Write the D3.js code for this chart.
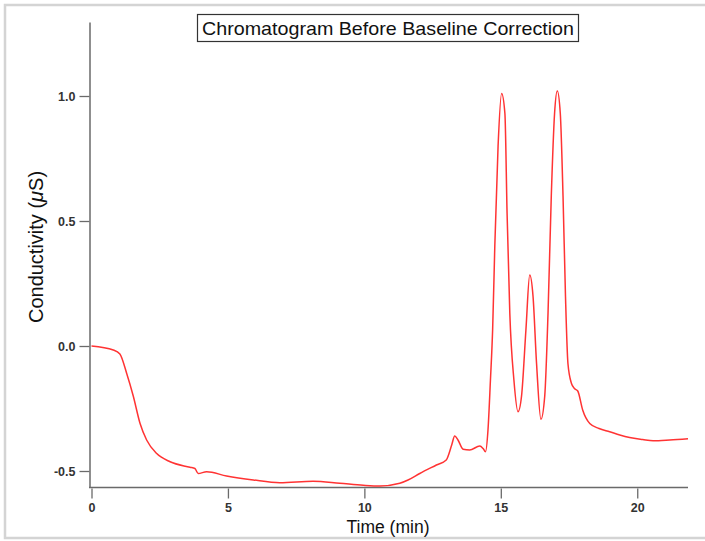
<!DOCTYPE html>
<html>
<head>
<meta charset="utf-8">
<script src="https://cdn.jsdelivr.net/npm/d3@7"></script>
<style>
  body { margin: 0; background: #fff; }
  svg { display: block; font-family: "Liberation Sans", Arial, sans-serif; }
</style>
</head>
<body>
<div id="main"></div>
<script>
// chromatogram trace
const timeMin = [0, 0.8, 1.04, 1.29, 1.53, 1.78, 2.02, 2.39, 2.88, 3.61, 3.79, 3.91, 4.22, 4.95, 5.93, 6.9, 8.12, 9.1, 9.96, 10.57, 11.3, 11.6, 12.03, 12.64, 13.0, 13.2, 13.31, 13.43, 13.62, 13.86, 14.23, 14.35, 14.44, 14.53, 14.62, 14.7, 14.78, 14.9, 15.03, 15.15, 15.23, 15.33, 15.48, 15.63, 15.76, 15.92, 16.06, 16.18, 16.31, 16.47, 16.61, 16.73, 16.85, 16.97, 17.07, 17.18, 17.28, 17.37, 17.46, 17.59, 17.7, 17.82, 18.0, 18.26, 18.6, 18.99, 19.36, 19.72, 20.2, 20.58, 21.19, 21.86];
const conductivity = [0.0, -0.016, -0.032, -0.11, -0.2, -0.31, -0.376, -0.43, -0.463, -0.485, -0.49, -0.51, -0.503, -0.52, -0.536, -0.547, -0.541, -0.549, -0.557, -0.56, -0.549, -0.536, -0.51, -0.476, -0.456, -0.396, -0.36, -0.376, -0.413, -0.416, -0.4, -0.41, -0.423, -0.336, -0.136, 0.064, 0.4, 0.8, 1.01, 0.93, 0.53, 0.13, -0.136, -0.263, -0.2, 0.064, 0.284, 0.2, -0.07, -0.293, -0.2, 0.13, 0.6, 0.93, 1.02, 0.93, 0.6, 0.2, -0.07, -0.15, -0.17, -0.18, -0.256, -0.31, -0.33, -0.343, -0.356, -0.366, -0.374, -0.379, -0.376, -0.371];
const xTicks = [0, 5, 10, 15, 20];
const yTicks = [-0.5, 0.0, 0.5, 1.0];

const d3 = window.d3;
const W = 705, H = 541;
const svg = d3.select("#main").append("svg").attr("width", W).attr("height", H);

// screenshot frame
svg.append("path")
    .attr("d", "M705,5 H5 V538 H705")
    .attr("fill", "none")
    .attr("stroke", "#d4d4d4")
    .attr("stroke-width", 2.5);

let xScale = d3.scaleLinear().domain([0, 21.86]).range([91.5, 688]);
let yScale = d3.scaleLinear().domain([-0.564, 1.296]).range([487, 22]);

const axisColor = "#6a6a6a";
const tickFont = "Liberation Sans, Arial, sans-serif";

// y axis
let yAxis = d3.axisLeft(yScale).tickValues(yTicks).tickFormat((d) => d.toFixed(1))
    .tickSizeInner(10).tickSizeOuter(0).tickPadding(4);
let gy = svg.append("g").attr("transform", "translate(89.5,0)").call(yAxis);
gy.select(".domain").attr("stroke", axisColor).attr("stroke-width", 1.5);
gy.selectAll(".tick line").attr("stroke", axisColor).attr("stroke-width", 1.3);
gy.selectAll(".tick text").attr("font-size", 12.5).attr("font-weight", "bold")
    .attr("fill", "#333").attr("font-family", tickFont);

// x axis line drawn separately, ticks hang below with a small gap
svg.append("line")
    .attr("x1", 89).attr("x2", xScale(21.86))
    .attr("y1", 487.5).attr("y2", 487.5)
    .attr("stroke", axisColor).attr("stroke-width", 1.5);
let xAxis = d3.axisBottom(xScale).tickValues(xTicks).tickFormat(d3.format("d"))
    .tickSizeInner(10).tickSizeOuter(0).tickPadding(5);
let gx = svg.append("g").attr("transform", "translate(0,488.5)").call(xAxis);
gx.select(".domain").remove();
gx.selectAll(".tick line").attr("stroke", axisColor).attr("stroke-width", 1.3);
gx.selectAll(".tick text").attr("font-size", 12.5).attr("font-weight", "bold")
    .attr("fill", "#333").attr("font-family", tickFont);

// axis titles
svg.append("text")
    .attr("x", 388).attr("y", 533)
    .attr("text-anchor", "middle")
    .attr("font-size", 17.5)
    .attr("fill", "#111")
    .text("Time (min)");

let yl = svg.append("text")
    .attr("transform", "translate(43,247) rotate(-90)")
    .attr("text-anchor", "middle")
    .attr("font-size", 20)
    .attr("fill", "#111");
yl.append("tspan").text("Conductivity (");
yl.append("tspan").attr("font-style", "italic").text("\u03bc");
yl.append("tspan").text("S)");

// title box
svg.append("rect")
    .attr("x", 197.5).attr("y", 14.5)
    .attr("width", 381).attr("height", 27)
    .attr("fill", "#fff")
    .attr("stroke", "#333").attr("stroke-width", 1.2);
svg.append("text")
    .attr("x", 388).attr("y", 34.5)
    .attr("text-anchor", "middle")
    .attr("font-size", 19)
    .attr("textLength", 372)
    .attr("lengthAdjust", "spacingAndGlyphs")
    .attr("fill", "#111")
    .text("Chromatogram Before Baseline Correction");

// trace
let line = d3.line()
    .x((d, i) => xScale(timeMin[i]))
    .y((d) => yScale(d))
    .curve(d3.curveMonotoneX);

svg.append("path")
    .datum(conductivity)
    .attr("d", line)
    .attr("fill", "none")
    .attr("stroke", "#ff3333")
    .attr("stroke-width", 1.5);
</script>
</body>
</html>
